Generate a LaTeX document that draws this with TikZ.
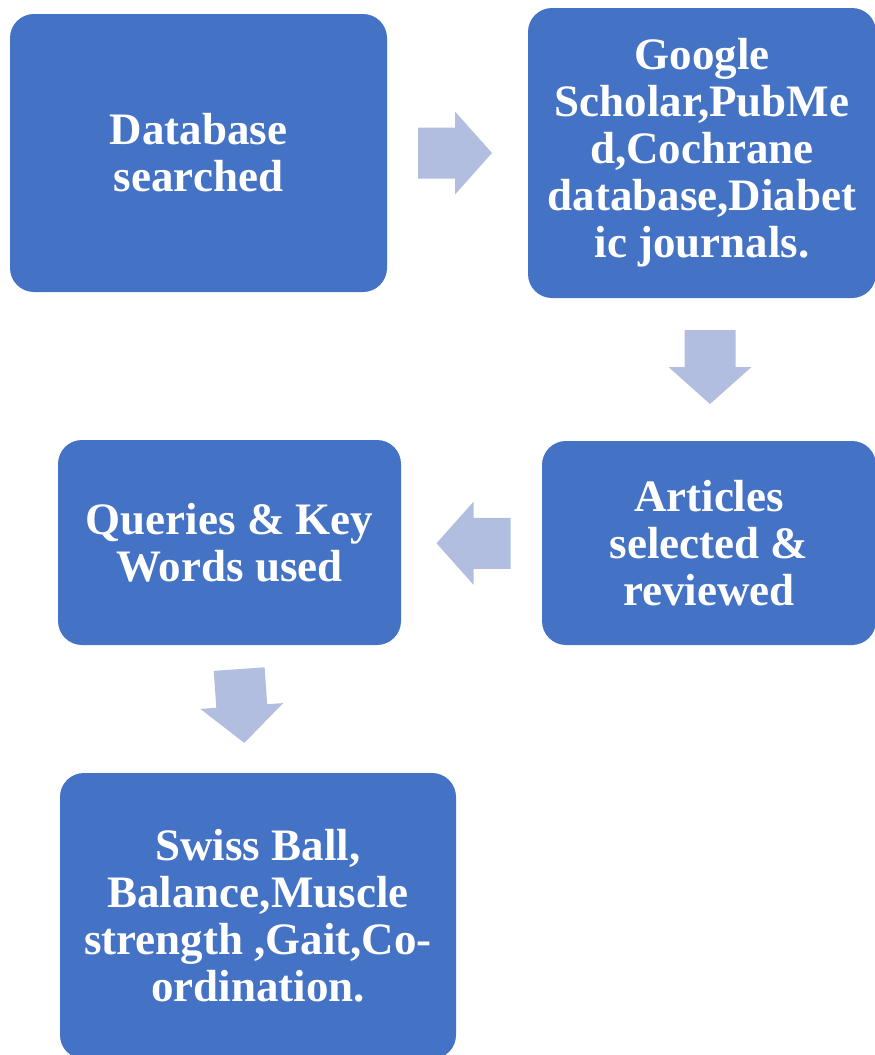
\documentclass[tikz,border=0pt]{standalone}
\usepackage{fontspec}
\setmainfont{Liberation Serif}
\usetikzlibrary{calc}
\definecolor{boxblue}{HTML}{4472C4}
\definecolor{arrowblue}{HTML}{B1BEE0}
\tikzset{
  stagebox/.style={fill=boxblue,draw=none,rounded corners=24pt,text=white,align=center,
    inner sep=0pt,font=\fontsize{45pt}{47pt}\selectfont\bfseries},
  blockarrow/.style={fill=arrowblue,draw=none}
}
\newcommand{\flowarrow}[2]{%
  \begin{scope}[shift={(#1)},rotate=#2]
    \fill[blockarrow] (-37,-25.5) -- (0,-25.5) -- (0,-41.5) -- (37,0) -- (0,41.5) -- (0,25.5) -- (-37,25.5) -- cycle;
  \end{scope}}

\begin{document}
\begin{tikzpicture}[x=1pt,y=-1pt]
  \useasboundingbox (0,0) rectangle (875,1055);
  % boxes
  \node[stagebox,minimum width=377pt,minimum height=278pt] (db) at (198.5,153) {Database\\searched};
  \node[stagebox,minimum width=348pt,minimum height=290pt] (src) at (702,153) {Google\\Scholar,PubMe\\d,Cochrane\\database,Diabet\\ic journals.};
  \node[stagebox,minimum width=334pt,minimum height=204pt] (art) at (709,543) {Articles\\selected \&\\reviewed};
  \node[stagebox,minimum width=343pt,minimum height=205pt] (qry) at (229.5,542.5) {Queries \& Key\\Words used};
  \node[stagebox,minimum width=396pt,minimum height=286pt] (out) at (258,916) {Swiss Ball,\\Balance,Muscle\\strength ,Gait,Co-\\ordination.};
  % arrows between the boxes
  \coordinate (a1) at ($(db.east)!0.5!(src.west)+(-2.5,0)$);
  \coordinate (a2) at ($(src.south)!0.5!(art.north)+(4.5,-2.5)$);
  \coordinate (a3) at ($(art.west)!0.5!(qry.east)+(2,0.5)$);
  \coordinate (a4) at ($(qry.south)!0.5!(out.north)+(-2,-3)$);
  \flowarrow{a1}{0}
  \flowarrow{a2}{-90}
  \flowarrow{a3}{180}
  \flowarrow{a4}{-86}
\end{tikzpicture}
\end{document}
